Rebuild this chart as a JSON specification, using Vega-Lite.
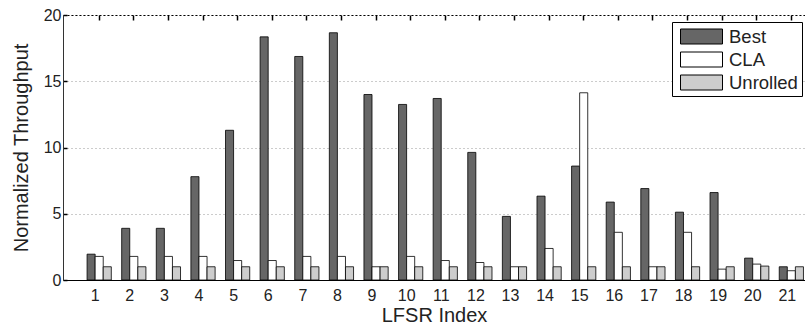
{
  "$schema": "https://vega.github.io/schema/vega-lite/v6.json",
  "width": 742,
  "height": 265,
  "autosize": "none",
  "padding": {"left": 63, "top": 15, "right": 0, "bottom": 48},
  "background": "white",
  "config": {
    "font": "Liberation Sans",
    "view": {"stroke": null}
  },
  "data": {"values": [
    {"idx": 1, "series": "Best", "value": 1.95}, {"idx": 1, "series": "CLA", "value": 1.78}, {"idx": 1, "series": "Unrolled", "value": 1.0},
    {"idx": 2, "series": "Best", "value": 3.9}, {"idx": 2, "series": "CLA", "value": 1.78}, {"idx": 2, "series": "Unrolled", "value": 1.0},
    {"idx": 3, "series": "Best", "value": 3.9}, {"idx": 3, "series": "CLA", "value": 1.78}, {"idx": 3, "series": "Unrolled", "value": 1.0},
    {"idx": 4, "series": "Best", "value": 7.8}, {"idx": 4, "series": "CLA", "value": 1.78}, {"idx": 4, "series": "Unrolled", "value": 1.0},
    {"idx": 5, "series": "Best", "value": 11.3}, {"idx": 5, "series": "CLA", "value": 1.47}, {"idx": 5, "series": "Unrolled", "value": 1.0},
    {"idx": 6, "series": "Best", "value": 18.35}, {"idx": 6, "series": "CLA", "value": 1.47}, {"idx": 6, "series": "Unrolled", "value": 1.0},
    {"idx": 7, "series": "Best", "value": 16.87}, {"idx": 7, "series": "CLA", "value": 1.78}, {"idx": 7, "series": "Unrolled", "value": 1.0},
    {"idx": 8, "series": "Best", "value": 18.66}, {"idx": 8, "series": "CLA", "value": 1.78}, {"idx": 8, "series": "Unrolled", "value": 1.0},
    {"idx": 9, "series": "Best", "value": 14.0}, {"idx": 9, "series": "CLA", "value": 1.0}, {"idx": 9, "series": "Unrolled", "value": 1.0},
    {"idx": 10, "series": "Best", "value": 13.25}, {"idx": 10, "series": "CLA", "value": 1.78}, {"idx": 10, "series": "Unrolled", "value": 1.0},
    {"idx": 11, "series": "Best", "value": 13.7}, {"idx": 11, "series": "CLA", "value": 1.47}, {"idx": 11, "series": "Unrolled", "value": 1.0},
    {"idx": 12, "series": "Best", "value": 9.63}, {"idx": 12, "series": "CLA", "value": 1.32}, {"idx": 12, "series": "Unrolled", "value": 1.0},
    {"idx": 13, "series": "Best", "value": 4.8}, {"idx": 13, "series": "CLA", "value": 1.0}, {"idx": 13, "series": "Unrolled", "value": 1.0},
    {"idx": 14, "series": "Best", "value": 6.33}, {"idx": 14, "series": "CLA", "value": 2.38}, {"idx": 14, "series": "Unrolled", "value": 1.0},
    {"idx": 15, "series": "Best", "value": 8.6}, {"idx": 15, "series": "CLA", "value": 14.13}, {"idx": 15, "series": "Unrolled", "value": 1.0},
    {"idx": 16, "series": "Best", "value": 5.88}, {"idx": 16, "series": "CLA", "value": 3.6}, {"idx": 16, "series": "Unrolled", "value": 1.0},
    {"idx": 17, "series": "Best", "value": 6.9}, {"idx": 17, "series": "CLA", "value": 1.0}, {"idx": 17, "series": "Unrolled", "value": 1.0},
    {"idx": 18, "series": "Best", "value": 5.12}, {"idx": 18, "series": "CLA", "value": 3.6}, {"idx": 18, "series": "Unrolled", "value": 1.0},
    {"idx": 19, "series": "Best", "value": 6.6}, {"idx": 19, "series": "CLA", "value": 0.82}, {"idx": 19, "series": "Unrolled", "value": 1.0},
    {"idx": 20, "series": "Best", "value": 1.65}, {"idx": 20, "series": "CLA", "value": 1.2}, {"idx": 20, "series": "Unrolled", "value": 1.05},
    {"idx": 21, "series": "Best", "value": 1.0}, {"idx": 21, "series": "CLA", "value": 0.7}, {"idx": 21, "series": "Unrolled", "value": 1.0}
  ]},
  "layer": [
    {
      "mark": {"type": "bar", "stroke": "black", "strokeWidth": 0.8},
      "encoding": {
        "x": {
          "field": "idx", "type": "ordinal",
          "scale": {"paddingInner": 0.3, "paddingOuter": 0.37, "align": 0.94},
          "axis": {
            "title": "LFSR Index", "titleFontSize": 20, "titleFontWeight": "normal", "titleColor": "#222", "titlePadding": 2,
            "labelAngle": 0, "labelFontSize": 16, "labelColor": "#222", "labelPadding": 7, "labelOffset": -4,
            "ticks": false, "domainColor": "black", "domainWidth": 1.2, "grid": false
          }
        },
        "xOffset": {"field": "series", "sort": ["Best", "CLA", "Unrolled"]},
        "y": {
          "field": "value", "type": "quantitative",
          "scale": {"domain": [0, 20], "nice": false},
          "axis": {
            "title": "Normalized Throughput", "titleFontSize": 20, "titleFontWeight": "normal", "titleColor": "#222", "titlePadding": 12,
            "values": [0, 5, 10, 15, 20], "labelFontSize": 16, "labelColor": "#222", "labelPadding": 6,
            "tickSize": -4, "tickColor": "black", "tickWidth": 1.5,
            "domainColor": "#333", "domainWidth": 1,
            "grid": true, "gridColor": "#999", "gridDash": [1, 3], "gridWidth": 1
          }
        },
        "fill": {
          "field": "series", "type": "nominal",
          "scale": {"domain": ["Best", "CLA", "Unrolled"], "range": ["#666666", "#ffffff", "#cdcdcd"]},
          "legend": {
            "title": null, "orient": "none", "legendX": 609, "legendY": 7,
            "fillColor": "white", "strokeColor": "black", "padding": 4,
            "symbolType": "M-0.6,-0.75H3.6V0.75H-0.6Z", "symbolSize": 400,
            "symbolStrokeColor": "black", "symbolStrokeWidth": 1,
            "labelFontSize": 18.5, "labelColor": "#222", "labelOffset": 32, "rowPadding": 3
          }
        }
      }
    },
    {
      "mark": {"type": "tick", "opacity": 0},
      "encoding": {
        "x": {
          "field": "idx", "type": "ordinal",
          "axis": {
            "orient": "top", "title": null, "labels": false,
            "ticks": true, "tickSize": -5, "tickColor": "black", "tickWidth": 1.5,
            "domainColor": "black", "domainDash": [2, 2], "domainWidth": 1.2, "grid": false
          }
        }
      }
    }
  ],
  "resolve": {"axis": {"x": "independent"}}
}
